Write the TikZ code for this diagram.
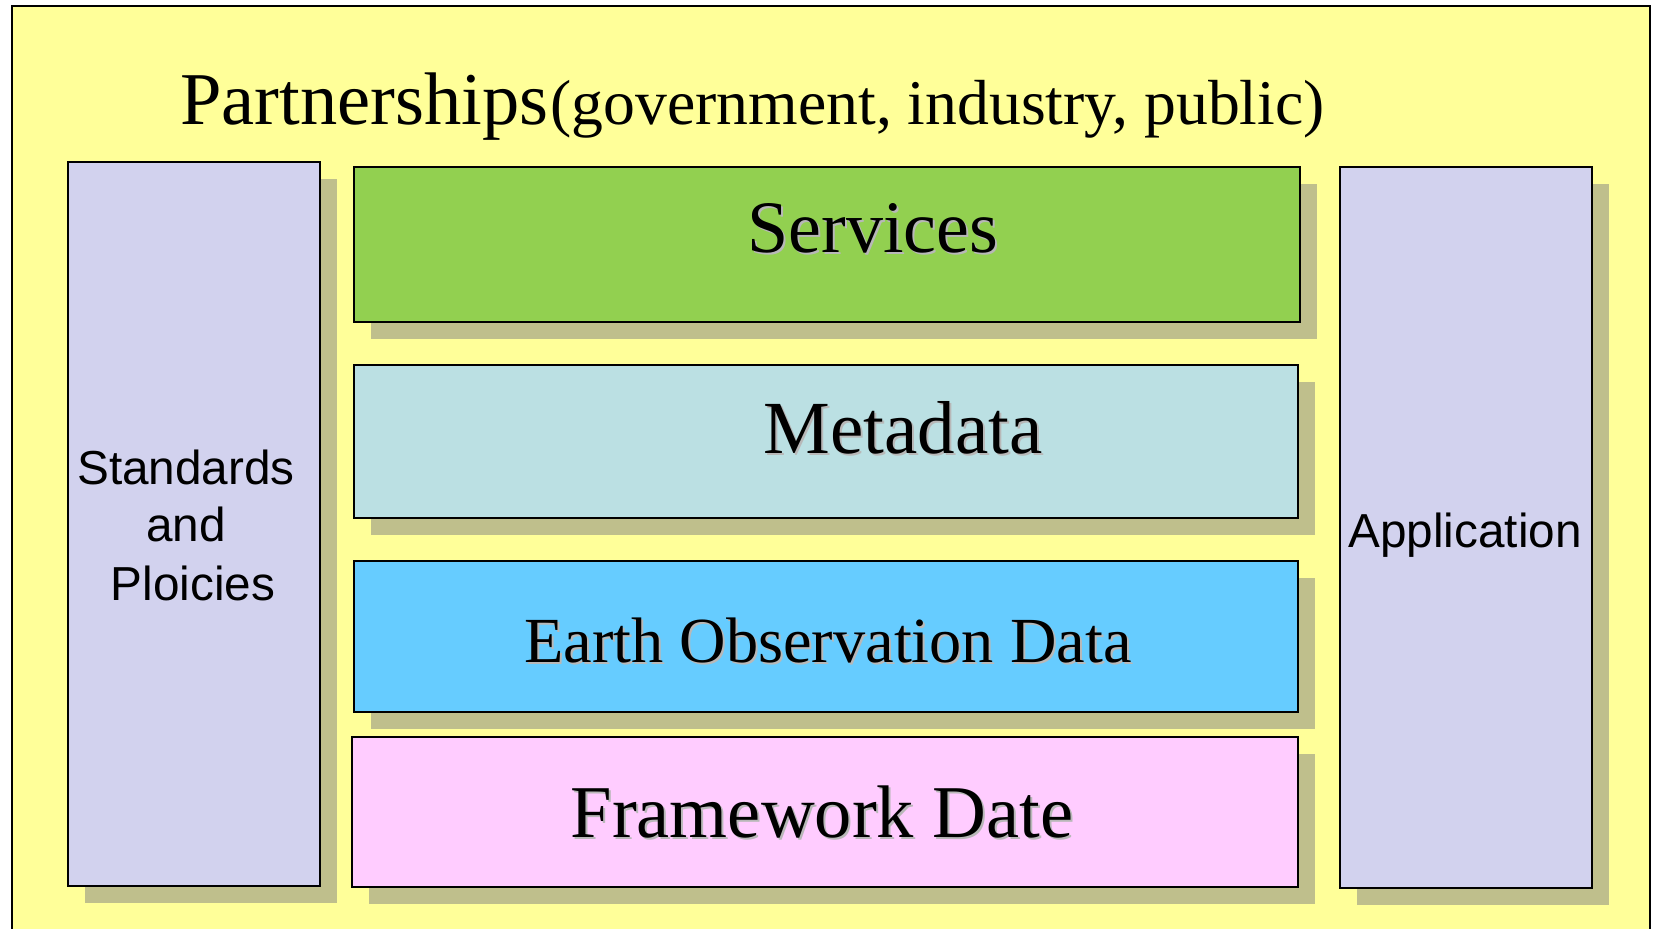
\documentclass[tikz,border=0pt]{standalone}
\usepackage{fontspec}
\setmainfont{Liberation Serif}
\setsansfont{Liberation Sans}
\usetikzlibrary{shadows}
\definecolor{bgyellow}{HTML}{FFFF99}
\definecolor{lav}{HTML}{D2D2EE}
\definecolor{svcgreen}{HTML}{92D050}
\definecolor{metablue}{HTML}{BBE0E3}
\definecolor{eoblue}{HTML}{66CCFF}
\definecolor{fwpink}{HTML}{FFCCFF}
\definecolor{shade}{HTML}{BFBF8C}
\tikzset{
  layerbox/.style={draw=black, line width=2pt, anchor=north west, inner sep=0pt,
    drop shadow={shadow xshift=17pt, shadow yshift=-17pt, fill=shade, opacity=1}},
  serifbig/.style={anchor=base, inner sep=0pt, font=\fontsize{#1}{#1}\selectfont},
  tshadow/.style={anchor=base, inner sep=0pt, text=black!28, font=\fontsize{#1}{#1}\selectfont},
  sanslab/.style={anchor=base, inner sep=0pt, font=\sffamily\fontsize{47.7}{54}\selectfont}
}
\begin{document}
\begin{tikzpicture}[x=1pt,y=-1pt]
\useasboundingbox (0,0) rectangle (1658,929);
\clip (0,0) rectangle (1658,929);
\fill[white] (0,0) rectangle (1658,929);
\node[draw=black, line width=2pt, fill=bgyellow, anchor=north west, inner sep=0pt,
  minimum width=1638pt, minimum height=960pt] (frame) at (11,5) {};
\node[anchor=base west, inner sep=0pt] (title) at (180,124)
  {{\fontsize{74.5}{80}\selectfont Partnerships}\kern2pt{\fontsize{63.7}{70}\selectfont (government, industry, public)}};
% side boxes
\node[layerbox, fill=lav, minimum width=252pt, minimum height=724pt] (std) at (67,161) {};
\node[layerbox, fill=lav, minimum width=252pt, minimum height=721pt] (app) at (1339,166) {};
% layers
\node[layerbox, fill=svcgreen, minimum width=946pt, minimum height=155pt] (svc) at (353,166) {};
\node[layerbox, fill=metablue, minimum width=944pt, minimum height=153pt] (meta) at (353,364) {};
\node[layerbox, fill=eoblue, minimum width=944pt, minimum height=151pt] (eo) at (353,560) {};
\node[layerbox, fill=fwpink, minimum width=946pt, minimum height=150pt] (fw) at (351,736) {};
% labels with text shadow
\node[tshadow=74] (svc-s) at (875,254) {Services};
\node[serifbig=74] (svc-t) at (873,252) {Services};
\node[tshadow=75] (meta-s) at (905,455) {Metadata};
\node[serifbig=75] (meta-t) at (903,453) {Metadata};
\node[tshadow=64.3] (eo-s) at (830,664) {Earth Observation Data};
\node[serifbig=64.3] (eo-t) at (828,662) {Earth Observation Data};
\node[tshadow=74.5] (fw-s) at (824,839) {Framework Date};
\node[serifbig=74.5] (fw-t) at (822,837) {Framework Date};
% side labels
\node[sanslab] (std1) at (186,484) {Standards};
\node[sanslab] (std2) at (186,541) {and};
\node[sanslab] (std3) at (193,600) {Ploicies};
\node[sanslab] (app-t) at (1465,547) {Application};
\end{tikzpicture}
\end{document}
